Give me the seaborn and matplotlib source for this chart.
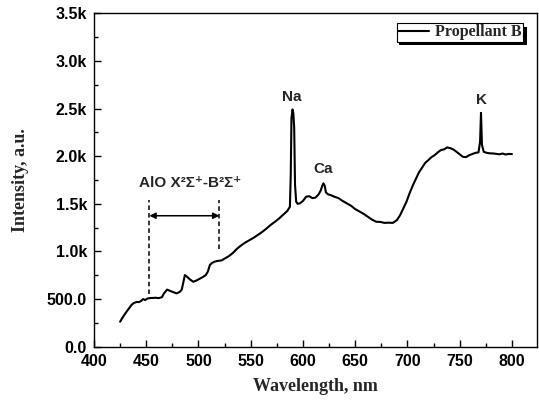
import numpy as np
import pandas as pd
import matplotlib
matplotlib.use("Agg")
import matplotlib.pyplot as plt
import seaborn as sns
from matplotlib.ticker import MultipleLocator, FuncFormatter
from matplotlib.patches import Rectangle

# emission spectrum
wavelength = [425, 427, 430, 433, 436, 438, 441, 443, 445, 447, 449, 451, 453, 456,
              459, 462, 465, 467, 470, 473, 476, 479, 482, 484, 486, 487, 489, 492,
              495, 498, 501, 504, 507, 509, 511, 513, 516, 519, 522, 525, 529, 533,
              537, 541, 545, 549, 553, 557, 561, 565, 569, 573, 577, 581, 585, 587.5,
              588.3, 589.0, 590.0, 590.8, 591.6, 592.4, 593.5, 595, 597, 600, 603, 606, 609,
              612, 615, 617, 618.5, 619.6, 620.8, 622, 624, 627, 630, 634, 638, 642,
              646, 650, 654, 658, 662, 666, 670, 674, 678, 682, 686, 690, 693, 696,
              699, 702, 705, 708, 711, 714, 717, 720, 723, 726, 729, 732, 735, 738,
              741, 744, 747, 750, 753, 756, 759, 762, 765, 768, 769.5, 770.4, 771.3,
              773, 776, 779, 782, 785, 788, 791, 794, 797, 800]
intensity = [262, 300, 350, 395, 440, 458, 470, 468, 480, 500, 490, 505, 510, 512,
             514, 510, 520, 560, 600, 585, 572, 560, 575, 600, 700, 752, 735, 705,
             682, 695, 712, 730, 752, 790, 860, 880, 895, 902, 905, 925, 950, 985,
             1030, 1065, 1095, 1120, 1145, 1175, 1205, 1240, 1278, 1310, 1345, 1385, 1425, 1469,
             1800, 2400, 2491, 2450, 2300, 1700, 1522, 1500, 1505, 1530, 1575, 1580, 1560,
             1565, 1600, 1640, 1690, 1715, 1690, 1620, 1600, 1590, 1575, 1560, 1530, 1505,
             1480, 1445, 1420, 1395, 1365, 1335, 1312, 1310, 1300, 1302, 1300, 1330, 1382, 1450,
             1520, 1610, 1690, 1760, 1830, 1880, 1930, 1959, 1990, 2011, 2040, 2064, 2072, 2092,
             2085, 2070, 2046, 2020, 1994, 1990, 2010, 2022, 2035, 2040, 2150, 2455, 2120,
             2046, 2035, 2030, 2029, 2025, 2020, 2028, 2018, 2024, 2022]

peak_labels = ["Na", "Ca", "K"]
peak_x = [589, 619.6, 770.4]
peak_y = [2626, 1864, 2588]

band_start, band_end = 453, 520
band_label = "AlO X²Σ⁺-B²Σ⁺"

df = pd.DataFrame({"Wavelength": wavelength, "Intensity": intensity})

sns.set_style("ticks")
plt.rcParams["font.family"] = ["Liberation Sans", "DejaVu Sans"]
plt.rcParams["font.weight"] = "bold"

fig = plt.figure(figsize=(5.39, 4.04), dpi=100)
ax = fig.add_axes([0.1744, 0.1418, 0.8219, 0.8252])

sns.lineplot(data=df, x="Wavelength", y="Intensity", ax=ax, color="black",
             linewidth=1.5, label="Propellant B", legend=False)

ax.set_xlim(400, 824)
ax.set_ylim(0, 3500)
ax.xaxis.set_major_locator(MultipleLocator(50))
ax.xaxis.set_minor_locator(MultipleLocator(25))
ax.yaxis.set_major_locator(MultipleLocator(500))
ax.yaxis.set_minor_locator(MultipleLocator(250))
ax.yaxis.set_major_formatter(FuncFormatter(
    lambda v, p: f"{v:.1f}" if v < 1000 else f"{v/1000:.1f}k"))
ax.tick_params(which="both", direction="in", width=1.0, colors="black",
               labelsize=11.5, pad=5)
ax.tick_params(which="major", length=5)
ax.tick_params(which="minor", length=3)
for lab in ax.get_xticklabels() + ax.get_yticklabels():
    lab.set_fontweight("bold")
for s in ax.spines.values():
    s.set_linewidth(1.0)
    s.set_color("black")

ax.set_xlabel("Wavelength, nm", family="Liberation Serif", fontsize=13,
              fontweight="bold", labelpad=7)
ax.set_ylabel("Intensity, a.u.", family="Liberation Serif", fontsize=13,
              fontweight="bold", labelpad=13)

for lbl, x, y in zip(peak_labels, peak_x, peak_y):
    ax.text(x, y, lbl, ha="center", va="center", fontsize=11, fontweight="bold")

ax.plot([band_start, band_start], [553, 1540], ls=(0, (3, 2)), color="black", lw=1.1)
ax.plot([band_end, band_end], [1025, 1540], ls=(0, (3, 2)), color="black", lw=1.1)
ax.annotate("", xy=(band_start, 1375), xytext=(band_end, 1375),
            arrowprops=dict(arrowstyle="<|-|>", color="black", lw=1.1,
                            mutation_scale=9, shrinkA=0, shrinkB=0))
ax.text(492, 1716, band_label, ha="center", va="center", fontsize=11,
        fontweight="bold")

# legend box at top right (axes fraction) with a solid drop shadow
lx0, lx1, ly0, ly1 = 0.679, 0.968, 0.917, 0.971
dx, dy = 4 / 443, 4 / 333.4
ax.add_patch(Rectangle((lx0 + dx, ly0 - dy), lx1 - lx0, ly1 - ly0,
                       transform=ax.transAxes, facecolor="black",
                       edgecolor="none", zorder=5, clip_on=False))
leg = ax.legend(loc="upper right", bbox_to_anchor=(lx1, ly1), fancybox=False,
                framealpha=1, edgecolor="black", handlelength=1.9,
                handletextpad=0.4, borderpad=0.08, borderaxespad=0,
                prop={"family": "Liberation Serif", "weight": "bold", "size": 11.5})
leg.get_frame().set_linewidth(0.8)
leg.set_zorder(6)

fig.savefig("out.png", dpi=100)
